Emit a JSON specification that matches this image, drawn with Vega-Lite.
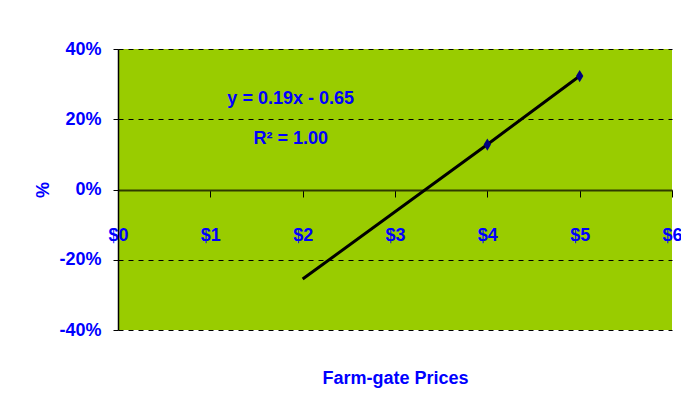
{
  "$schema": "https://vega.github.io/schema/vega-lite/v6.json",
  "width": 554,
  "height": 281,
  "autosize": {"type": "none"},
  "padding": {"left": 118, "top": 49, "right": 9, "bottom": 87},
  "background": "white",
  "config": {
    "font": "Liberation Sans",
    "locale": {
      "number": {
        "decimal": ".",
        "thousands": ",",
        "grouping": [3],
        "currency": ["$", ""],
        "minus": "-",
        "percent": "%"
      }
    },
    "view": {"fill": "#99CC00", "stroke": null},
    "axis": {
      "labelFont": "Liberation Sans",
      "titleFont": "Liberation Sans",
      "labelColor": "#0000FF",
      "titleColor": "#0000FF",
      "labelFontWeight": "bold",
      "titleFontWeight": "bold",
      "labelFontSize": 18,
      "titleFontSize": 18
    }
  },
  "datasets": {
    "points": [
      {"price": 2, "pct": -0.255},
      {"price": 4, "pct": 0.128},
      {"price": 5, "pct": 0.323}
    ],
    "notes": [
      {"price": 1.87, "pct": 0.259, "text": "y = 0.19x - 0.65"},
      {"price": 1.87, "pct": 0.145, "text": "R² = 1.00"}
    ]
  },
  "layer": [
    {
      "data": {"name": "points"},
      "mark": {"type": "line", "color": "black", "strokeWidth": 3},
      "encoding": {
        "x": {
          "field": "price",
          "type": "quantitative",
          "scale": {"domain": [0, 6], "nice": false},
          "axis": {
            "orient": "bottom",
            "offset": -140,
            "values": [0, 1, 2, 3, 4, 5, 6],
            "format": "$.0f",
            "grid": false,
            "domainColor": "#2E3A00",
            "domainWidth": 2,
            "tickColor": "black",
            "tickSize": 7,
            "tickWidth": 1,
            "labelPadding": 29,
            "labelFlush": false,
            "title": "Farm-gate Prices",
            "titleY": 188,
            "titleBaseline": "middle"
          }
        },
        "y": {
          "field": "pct",
          "type": "quantitative",
          "scale": {"domain": [-0.4, 0.4], "nice": false},
          "axis": {
            "orient": "left",
            "values": [-0.4, -0.2, 0, 0.2, 0.4],
            "format": ".0%",
            "grid": true,
            "gridColor": "black",
            "gridDash": [5, 5],
            "gridWidth": 1,
            "domainColor": "black",
            "domainWidth": 1.5,
            "tickColor": "black",
            "tickSize": 5,
            "labelPadding": 12,
            "title": "%",
            "titlePadding": 6
          }
        }
      }
    },
    {
      "mark": {"type": "rule", "color": "black", "strokeWidth": 1.5},
      "encoding": {
        "x": {"datum": 6, "type": "quantitative"}
      }
    },
    {
      "data": {"name": "points"},
      "transform": [{"filter": "datum.price >= 4"}],
      "mark": {
        "type": "point",
        "shape": "M0,-1L0.6,0L0,1L-0.6,0Z",
        "filled": true,
        "color": "#00007F",
        "opacity": 1,
        "size": 150
      },
      "encoding": {
        "x": {"field": "price", "type": "quantitative"},
        "y": {"field": "pct", "type": "quantitative"}
      }
    },
    {
      "data": {"name": "notes"},
      "mark": {
        "type": "text",
        "color": "#0000FF",
        "fontWeight": "bold",
        "fontSize": 18,
        "font": "Liberation Sans"
      },
      "encoding": {
        "x": {"field": "price", "type": "quantitative"},
        "y": {"field": "pct", "type": "quantitative"},
        "text": {"field": "text"}
      }
    }
  ]
}
